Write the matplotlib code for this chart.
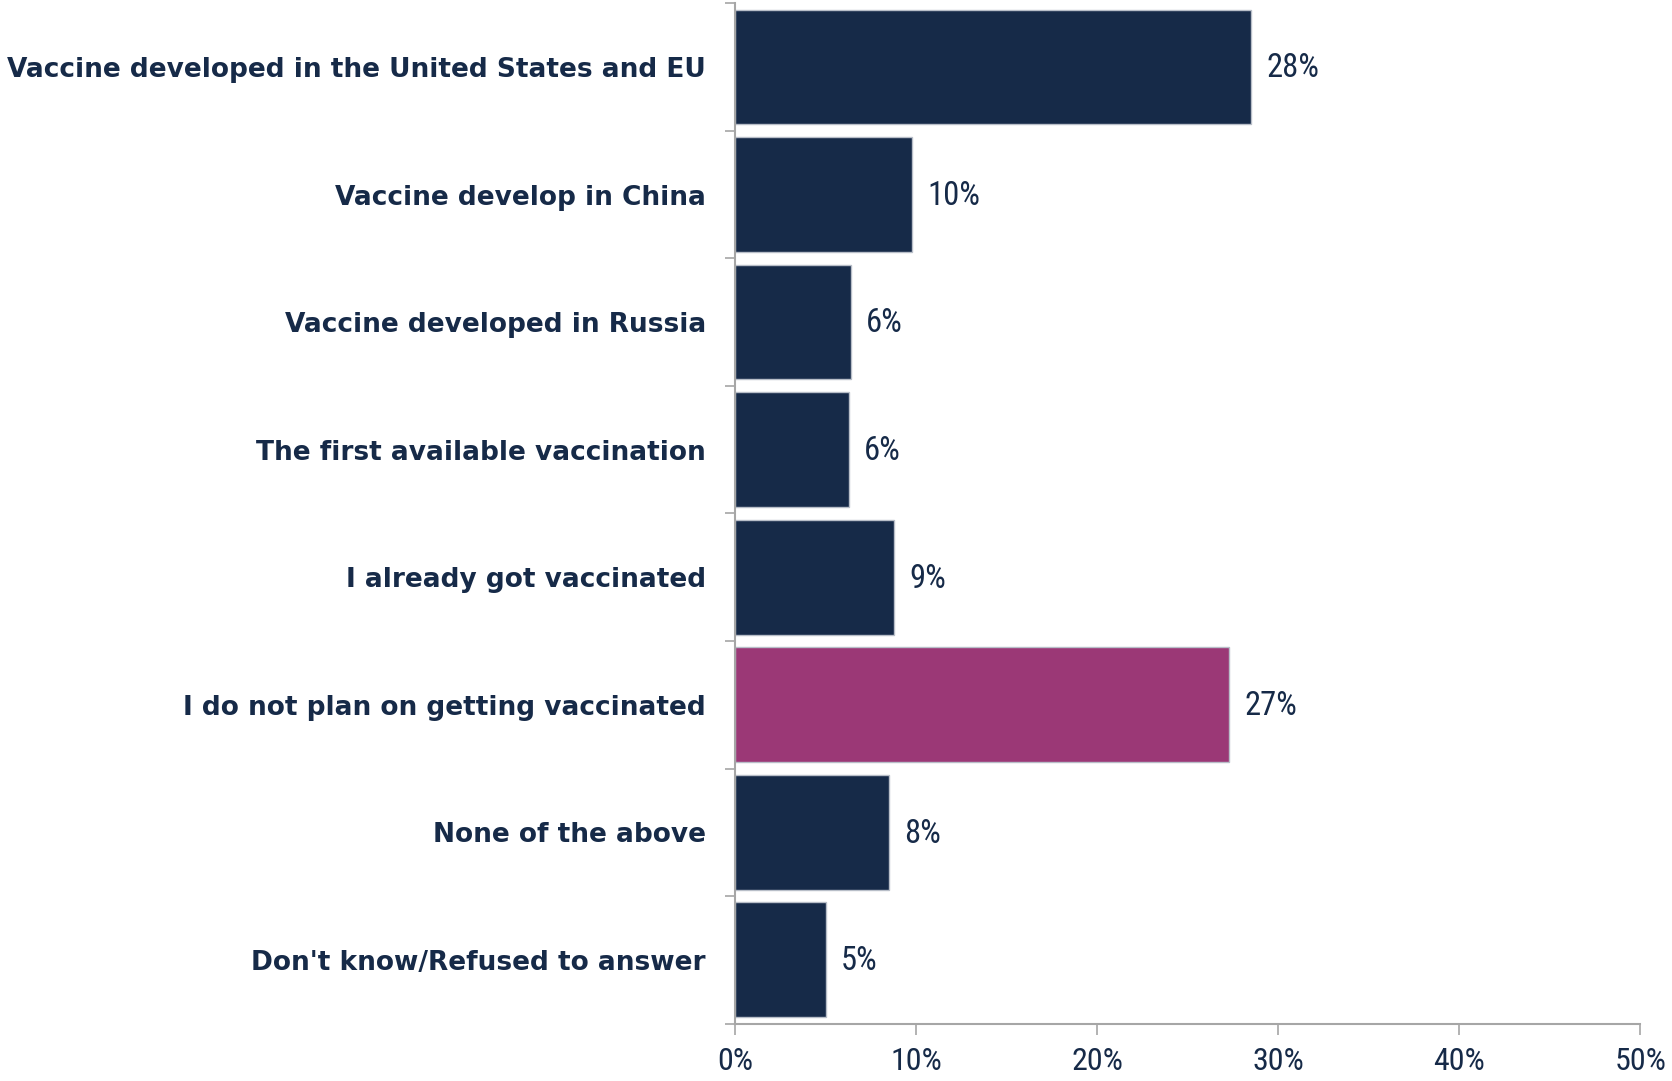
import matplotlib
matplotlib.use("Agg")
import matplotlib.pyplot as plt
from matplotlib.ticker import FixedLocator, PercentFormatter

categories = [
    "Vaccine developed in the United States and EU",
    "Vaccine develop in China",
    "Vaccine developed in Russia",
    "The first available vaccination",
    "I already got vaccinated",
    "I do not plan on getting vaccinated",
    "None of the above",
    "Don't know/Refused to answer",
]
values = [28.5, 9.8, 6.4, 6.3, 8.8, 27.3, 8.5, 5.0]
value_labels = ["28%", "10%", "6%", "6%", "9%", "27%", "8%", "5%"]
highlight = "I do not plan on getting vaccinated"
x_ticks = [0, 10, 20, 30, 40, 50]

NAVY = "#162A48"
MAGENTA = "#9B3876"
GRAY = "#A6A6A6"

fig = plt.figure(figsize=(16.72, 10.81), dpi=100)
ax = fig.add_axes([0.4396, 0.0531, 0.981 - 0.4396, 0.997 - 0.0531])

ypos = list(range(len(categories)))
colors = [MAGENTA if c == highlight else NAVY for c in categories]
ax.barh(ypos, values, height=0.9, color=colors, edgecolor="#B8BEC8", linewidth=1.0)

ax.set_xlim(0, 50)
ax.set_ylim(len(categories) - 0.5, -0.5)

num_family = ["Roboto Condensed", "DejaVu Sans"]
for y, v, lab in zip(ypos, values, value_labels):
    ax.annotate(lab, (v, y), xytext=(11, -1), textcoords="offset points",
                va="center", ha="left", fontsize=23.5, color=NAVY, family=num_family)

ax.set_yticks(ypos)
ax.set_yticklabels(categories, fontsize=19.0, fontweight="bold", color=NAVY,
                   family=["DejaVu Sans"])
ax.tick_params(axis="y", length=0, pad=21)
ax.yaxis.set_minor_locator(FixedLocator([i - 0.5 for i in range(len(categories) + 1)]))
ax.tick_params(axis="y", which="minor", length=7, color=GRAY, width=1.2)

ax.set_xticks(x_ticks)
ax.xaxis.set_major_formatter(PercentFormatter(decimals=0))
ax.tick_params(axis="x", length=8, color=GRAY, width=1.2, pad=9, labelsize=23,
               labelcolor=NAVY)
for t in ax.get_xticklabels():
    t.set_family(num_family)

for s in ["top", "right"]:
    ax.spines[s].set_visible(False)
for s in ["left", "bottom"]:
    ax.spines[s].set_color(GRAY)
    ax.spines[s].set_linewidth(1.5)

fig.savefig("out.png", dpi=100, facecolor="white")
